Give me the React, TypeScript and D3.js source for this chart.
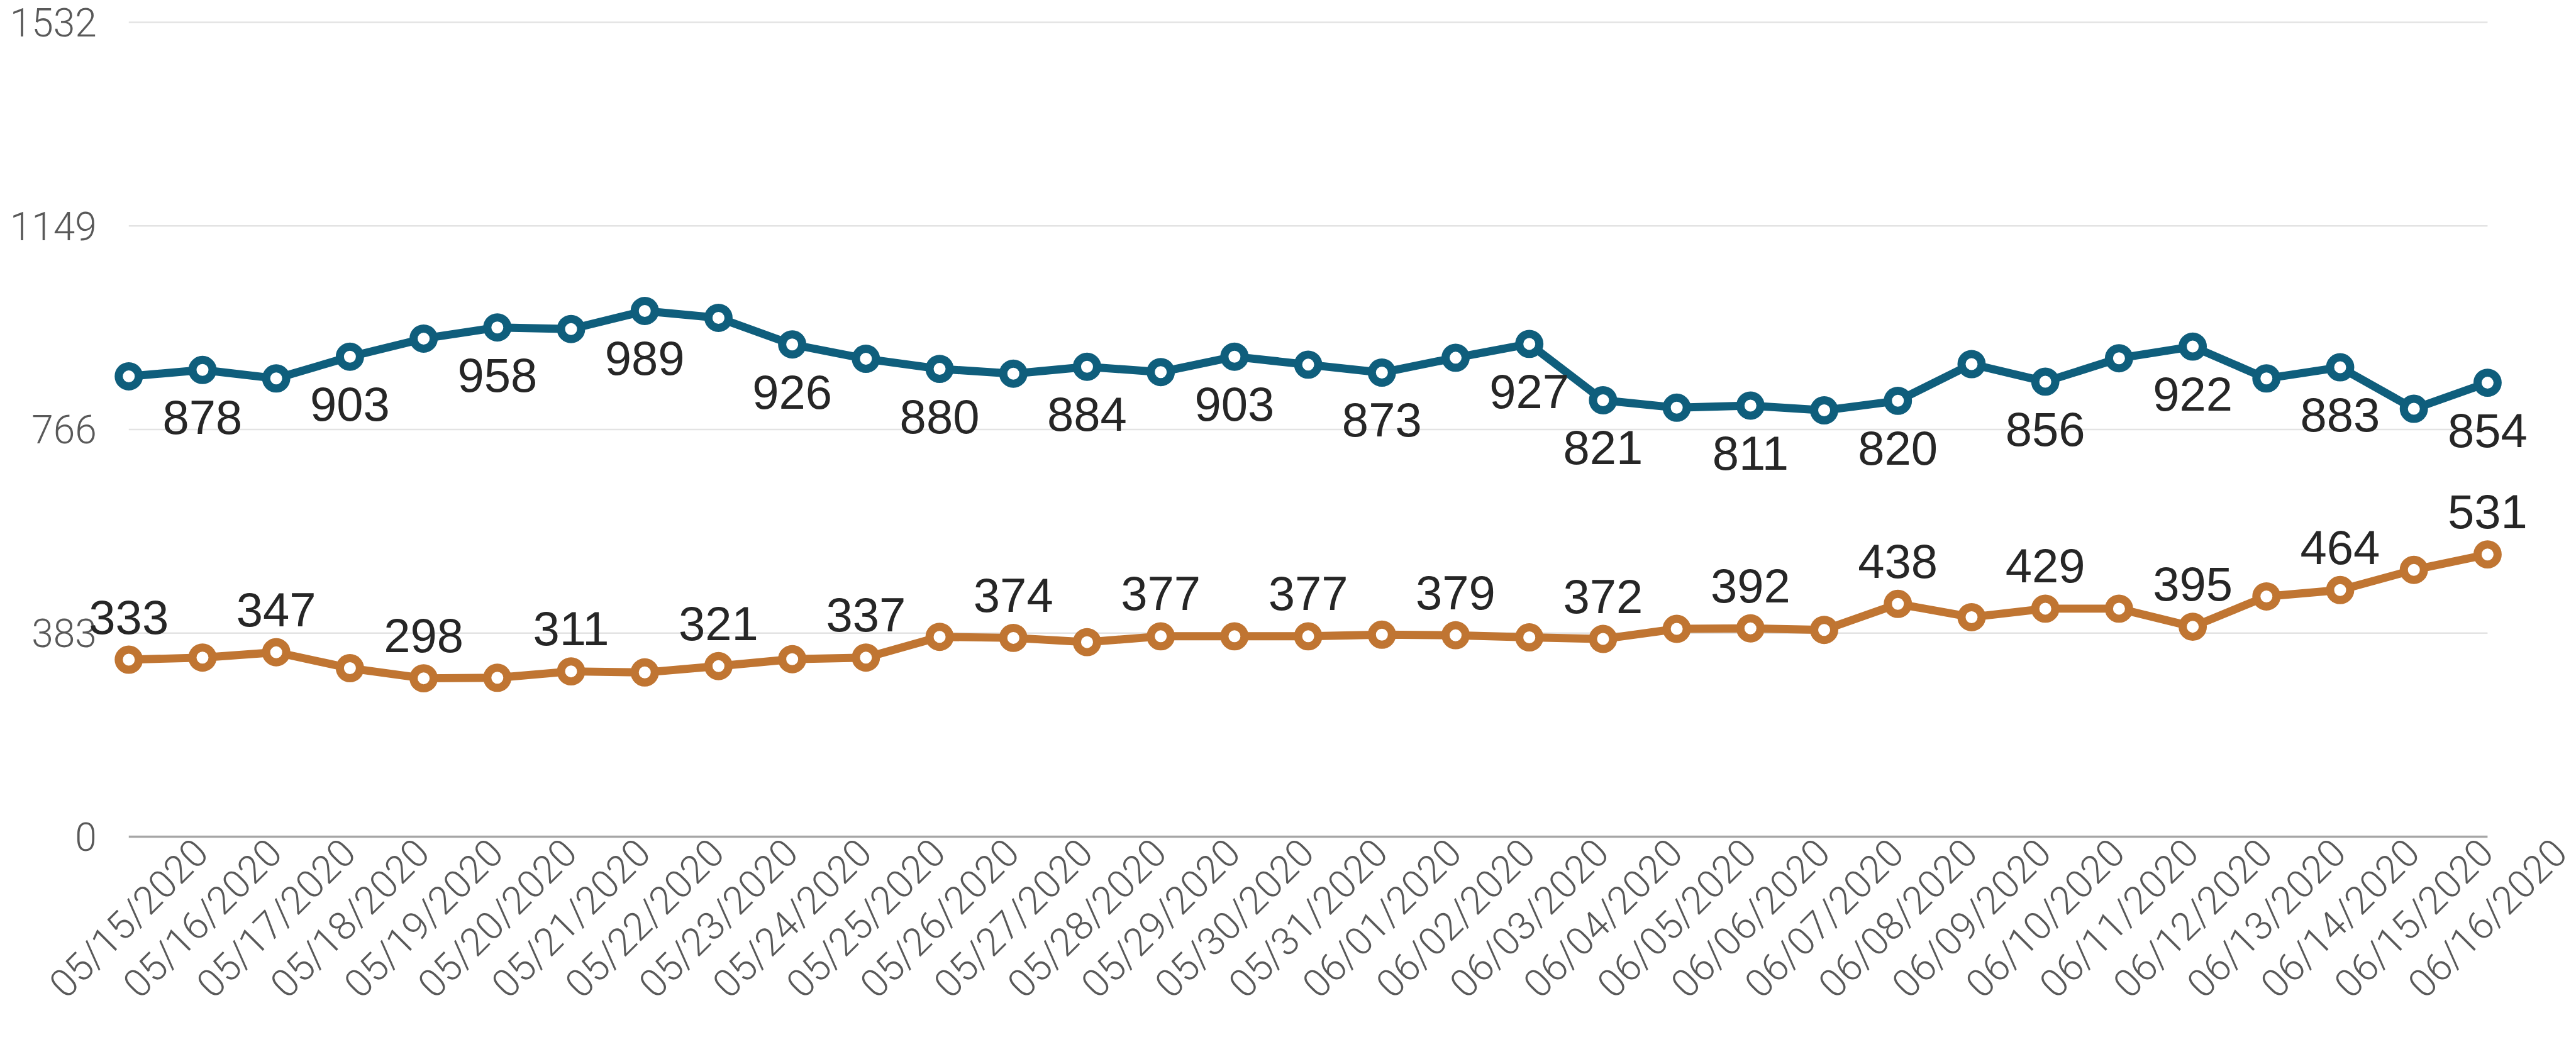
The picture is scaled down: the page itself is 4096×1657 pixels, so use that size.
import React, { useEffect, useRef } from 'react';
import * as d3 from 'd3';

const dates = [
  '05/15/2020', '05/16/2020', '05/17/2020', '05/18/2020', '05/19/2020', '05/20/2020',
  '05/21/2020', '05/22/2020', '05/23/2020', '05/24/2020', '05/25/2020', '05/26/2020',
  '05/27/2020', '05/28/2020', '05/29/2020', '05/30/2020', '05/31/2020', '06/01/2020',
  '06/02/2020', '06/03/2020', '06/04/2020', '06/05/2020', '06/06/2020', '06/07/2020',
  '06/08/2020', '06/09/2020', '06/10/2020', '06/11/2020', '06/12/2020', '06/13/2020',
  '06/14/2020', '06/15/2020', '06/16/2020',
];

const blueValues = [
  866, 878, 862, 903, 937, 958, 955, 989, 976, 926, 899, 880, 871, 884, 874, 903, 888,
  873, 901, 927, 821, 807, 811, 802, 820, 889, 856, 900, 922, 862, 883, 805, 854,
];

const orangeValues = [
  333, 337, 347, 317, 298, 299, 311, 309, 321, 334, 337, 376, 374, 366, 377, 377, 377,
  380, 379, 375, 372, 391, 392, 389, 438, 413, 429, 429, 395, 452, 464, 502, 531,
];

const yTicks = [0, 383, 766, 1149, 1532];

const blueLabelIdx = [1, 3, 5, 7, 9, 11, 13, 15, 17, 19, 20, 22, 24, 26, 28, 30, 32];
const orangeLabelIdx = [0, 2, 4, 6, 8, 10, 12, 14, 16, 18, 20, 22, 24, 26, 28, 30, 32];

const S = 0.864;
const W = 4096;
const H = 1657;

const BLUE = '#0f5e7c';
const ORANGE = '#c07532';

export default function App() {
  const ref = useRef<SVGSVGElement>(null);

  useEffect(() => {
    const svg = d3.select(ref.current);
    svg.selectAll('*').remove();
    const g = svg.append('g').attr('transform', `scale(${S})`);

    const x = d3.scalePoint<string>().domain(dates).range([237, 4578]);
    const y = d3.scaleLinear().domain([0, 1532]).range([1540, 41]);

    const axisFont = "'Helvetica Neue', Roboto, 'Liberation Sans', Arial, sans-serif";
    const dataFont = "'Helvetica Neue', 'Liberation Sans', Arial, sans-serif";

    // gridlines
    g.selectAll('line.grid')
      .data(yTicks.filter((t) => t !== 0))
      .enter()
      .append('line')
      .attr('x1', x(dates[0])!)
      .attr('x2', x(dates[dates.length - 1])!)
      .attr('y1', (d) => y(d))
      .attr('y2', (d) => y(d))
      .attr('stroke', '#e3e3e3')
      .attr('stroke-width', 3);

    // zero line
    g.append('line')
      .attr('x1', x(dates[0])!)
      .attr('x2', x(dates[dates.length - 1])!)
      .attr('y1', y(0))
      .attr('y2', y(0))
      .attr('stroke', '#a6a6a6')
      .attr('stroke-width', 4);

    // y labels
    g.selectAll('text.ylab')
      .data(yTicks)
      .enter()
      .append('text')
      .attr('x', 178)
      .attr('y', (d) => y(d) + 26)
      .attr('text-anchor', 'end')
      .attr('font-family', axisFont)
      .attr('font-weight', 300)
      .attr('font-size', 72)
      .attr('fill', '#595959')
      .text((d) => String(d));

    // x labels
    g.selectAll('text.xlab')
      .data(dates)
      .enter()
      .append('text')
      .attr('transform', (d) => `translate(${x(d)!},${y(0) + 150}) rotate(-45)`)
      .attr('text-anchor', 'middle')
      .attr('dominant-baseline', 'central')
      .attr('font-family', axisFont)
      .attr('font-weight', 300)
      .attr('font-size', 72)
      .attr('fill', '#595959')
      .text((d) => d);

    const drawSeries = (vals: number[], color: string) => {
      const line = d3
        .line<number>()
        .x((_, i) => x(dates[i])!)
        .y((d) => y(d));
      g.append('path')
        .attr('d', line(vals))
        .attr('fill', 'none')
        .attr('stroke', color)
        .attr('stroke-width', 15)
        .attr('stroke-linejoin', 'round');
      g.append('g')
        .selectAll('circle')
        .data(vals)
        .enter()
        .append('circle')
        .attr('cx', (_, i) => x(dates[i])!)
        .attr('cy', (d) => y(d))
        .attr('r', 18.5)
        .attr('fill', '#ffffff')
        .attr('stroke', color)
        .attr('stroke-width', 15);
    };

    drawSeries(blueValues, BLUE);
    drawSeries(orangeValues, ORANGE);

    g.selectAll('text.bl')
      .data(blueLabelIdx)
      .enter()
      .append('text')
      .attr('x', (i) => x(dates[i])!)
      .attr('y', (i) => y(blueValues[i]) + 118)
      .attr('text-anchor', 'middle')
      .attr('font-family', dataFont)
      .attr('font-size', 88)
      .attr('fill', '#262626')
      .text((i) => String(blueValues[i]));

    g.selectAll('text.ol')
      .data(orangeLabelIdx)
      .enter()
      .append('text')
      .attr('x', (i) => x(dates[i])!)
      .attr('y', (i) => y(orangeValues[i]) - 48)
      .attr('text-anchor', 'middle')
      .attr('font-family', dataFont)
      .attr('font-size', 88)
      .attr('fill', '#262626')
      .text((i) => String(orangeValues[i]));
  }, []);

  return (
    <svg
      ref={ref}
      width={W}
      height={H}
      style={{ position: 'absolute', left: 0, top: 0, background: '#ffffff', display: 'block' }}
    />
  );
}
